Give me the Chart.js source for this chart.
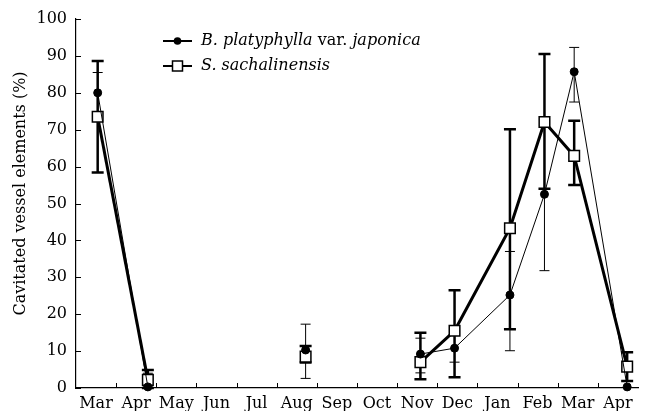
<!DOCTYPE html>
<html>
<head>
<meta charset="utf-8">
<script src="https://cdn.jsdelivr.net/npm/chart.js@4/dist/chart.umd.min.js"></script>
<style>
  html, body { margin: 0; padding: 0; background: #fff; }
  #wrap { width: 647px; height: 411px; }
</style>
</head>
<body>
<div id="wrap"><canvas id="c" width="647" height="411"></canvas></div>
<script>
// Month labels along the x axis (each month occupies one unit; label centred in it)
const monthLabels = ['Mar','Apr','May','Jun','Jul','Aug','Sep','Oct','Nov','Dec','Jan','Feb','Mar','Apr'];
// Sampling position of each observation on the month axis (month index + fraction)
const sampleX = [0.54, 1.79, 5.72, 8.58, 9.43, 10.81, 11.67, 12.41, 13.73];
// Observation index after which the connecting line is broken
const lineBreaksAfter = [1, 2];

// B. platyphylla var. japonica (filled circles, thin line)
const bValues = [80.0, 0.3, 10.3, 9.2, 10.8, 25.2, 52.5, 85.7, 0.3];
const bLow    = [74.5, 0.3, 2.6, 4.1, 7.0, 10.1, 31.8, 77.5, 0.3];
const bHigh   = [85.5, 4.0, 17.3, 13.5, 14.6, 37.0, 73.3, 92.3, 0.3];

// S. sachalinensis (open squares, thick line)
const sValues = [73.5, 2.2, 8.5, 7.0, 15.5, 43.3, 72.1, 62.9, 5.8];
const sLow    = [58.4, 0.0, 6.9, 2.4, 2.9, 15.9, 54.0, 55.0, 1.9];
const sHigh   = [88.6, 4.9, 11.4, 15.0, 26.5, 70.1, 90.5, 72.4, 9.7];

const yTicks = [0, 10, 20, 30, 40, 50, 60, 70, 80, 90, 100];
const yTitle = 'Cavitated vessel elements (%)';

const FONT = "'DejaVu Serif', 'Liberation Serif', serif";

const toPoints = (vals) => vals.map((v, i) => ({ x: sampleX[i], y: v }));
const segStyle = () => ({
  borderColor: ctx => lineBreaksAfter.includes(ctx.p0DataIndex) ? 'rgba(0,0,0,0)' : '#000'
});

const errorSets = [
  { low: bLow, high: bHigh, width: 1, cap: 5 },
  { low: sLow, high: sHigh, width: 2.5, cap: 6 }
];

const errorBarPlugin = {
  id: 'errorBars',
  beforeDatasetsDraw(chart) {
    const ctx = chart.ctx, xs = chart.scales.x, ys = chart.scales.y;
    ctx.save();
    ctx.strokeStyle = '#000';
    errorSets.forEach(es => {
      ctx.lineWidth = es.width;
      sampleX.forEach((xv, i) => {
        if (es.low[i] === es.high[i]) return;
        const px = xs.getPixelForValue(xv);
        const pl = ys.getPixelForValue(es.low[i]);
        const ph = ys.getPixelForValue(es.high[i]);
        ctx.beginPath();
        ctx.moveTo(px, pl); ctx.lineTo(px, ph);
        ctx.moveTo(px - es.cap, pl); ctx.lineTo(px + es.cap, pl);
        ctx.moveTo(px - es.cap, ph); ctx.lineTo(px + es.cap, ph);
        ctx.stroke();
      });
    });
    ctx.restore();
  }
};

const innerTicksPlugin = {
  id: 'innerTicks',
  afterDraw(chart) {
    const ctx = chart.ctx, xs = chart.scales.x, ys = chart.scales.y;
    const a = chart.chartArea;
    ctx.save();
    ctx.strokeStyle = '#000';
    ctx.lineWidth = 1;
    ctx.beginPath();
    yTicks.forEach(v => {
      const py = Math.round(ys.getPixelForValue(v)) + 0.5;
      ctx.moveTo(a.left, py); ctx.lineTo(a.left + 5, py);
    });
    for (let m = 1; m < monthLabels.length; m++) {
      const px = Math.round(xs.getPixelForValue(m)) + 0.5;
      ctx.moveTo(px, a.bottom); ctx.lineTo(px, a.bottom - 5);
    }
    ctx.stroke();
    // rotated y-axis title (placed slightly above the plot centre, as in the original)
    ctx.translate(21, (a.top + a.bottom) / 2 - 10);
    ctx.rotate(-Math.PI / 2);
    ctx.fillStyle = '#000';
    ctx.font = '16px ' + FONT;
    ctx.textAlign = 'center';
    ctx.textBaseline = 'middle';
    ctx.fillText(yTitle, 0, 0);
    ctx.restore();
  }
};

const legendPlugin = {
  id: 'customLegend',
  afterDraw(chart) {
    const ctx = chart.ctx, a = chart.chartArea;
    const x0 = a.left + 87, x1 = a.left + 116, xm = (x0 + x1) / 2;
    const tx = a.left + 125;
    const rows = [
      { y: a.top + 22, marker: 'circle',
        parts: [['italic', 'B. platyphylla'], ['normal', ' var. '], ['italic', 'japonica']] },
      { y: a.top + 47, marker: 'square',
        parts: [['italic', 'S. sachalinensis']] }
    ];
    ctx.save();
    rows.forEach(r => {
      ctx.strokeStyle = '#000';
      ctx.lineWidth = 2;
      ctx.beginPath(); ctx.moveTo(x0, r.y); ctx.lineTo(x1, r.y); ctx.stroke();
      if (r.marker === 'circle') {
        ctx.fillStyle = '#000';
        ctx.beginPath(); ctx.arc(xm, r.y, 3.8, 0, Math.PI * 2); ctx.fill();
      } else {
        ctx.fillStyle = '#fff';
        ctx.lineWidth = 1.5;
        ctx.fillRect(xm - 5, r.y - 5, 10, 10);
        ctx.strokeRect(xm - 5, r.y - 5, 10, 10);
      }
      let x = tx;
      ctx.fillStyle = '#000';
      ctx.textBaseline = 'middle';
      r.parts.forEach(([style, txt]) => {
        ctx.font = style + ' 16px ' + FONT;
        ctx.fillText(txt, x, r.y);
        x += ctx.measureText(txt).width;
      });
    });
    ctx.restore();
  }
};

new Chart(document.getElementById('c'), {
  type: 'line',
  data: {
    datasets: [
      {
        label: 'B. platyphylla var. japonica',
        data: toPoints(bValues),
        borderColor: '#000',
        borderWidth: 1,
        pointStyle: 'circle',
        pointRadius: 4,
        pointBackgroundColor: '#000',
        pointBorderColor: '#000',
        pointBorderWidth: 1,
        segment: segStyle(),
        clip: false
      },
      {
        label: 'S. sachalinensis',
        data: toPoints(sValues),
        borderColor: '#000',
        borderWidth: 3,
        pointStyle: 'rect',
        pointRadius: 7.5,
        pointBackgroundColor: '#fff',
        pointBorderColor: '#000',
        pointBorderWidth: 1.5,
        segment: segStyle(),
        clip: false
      }
    ]
  },
  options: {
    responsive: false,
    animation: false,
    events: [],
    layout: { padding: { top: 19, right: 2, left: 0, bottom: 0 } },
    plugins: { legend: { display: false }, tooltip: { enabled: false } },
    scales: {
      x: {
        type: 'linear',
        min: 0,
        max: monthLabels.length,
        border: { display: true, color: '#000', width: 1.2 },
        grid: { display: false, drawTicks: false },
        afterFit: s => { s.height = 23; },
        afterBuildTicks: s => {
          s.ticks = monthLabels.map((m, i) => ({ value: i }));
        },
        ticks: {
          autoSkip: false,
          maxRotation: 0,
          padding: 6,
          labelOffset: 20,
          color: '#000',
          font: { family: FONT, size: 16 },
          callback: v => monthLabels[v] ?? ''
        }
      },
      y: {
        min: 0,
        max: 100,
        border: { display: true, color: '#000', width: 1.2 },
        grid: { display: false, drawTicks: false },
        afterFit: s => { s.width = 76; },
        afterBuildTicks: s => { s.ticks = yTicks.map(v => ({ value: v })); },
        ticks: {
          padding: 9,
          color: '#000',
          font: { family: FONT, size: 16 }
        },
        title: { display: false }
      }
    }
  },
  plugins: [errorBarPlugin, innerTicksPlugin, legendPlugin]
});
</script>
</body>
</html>
